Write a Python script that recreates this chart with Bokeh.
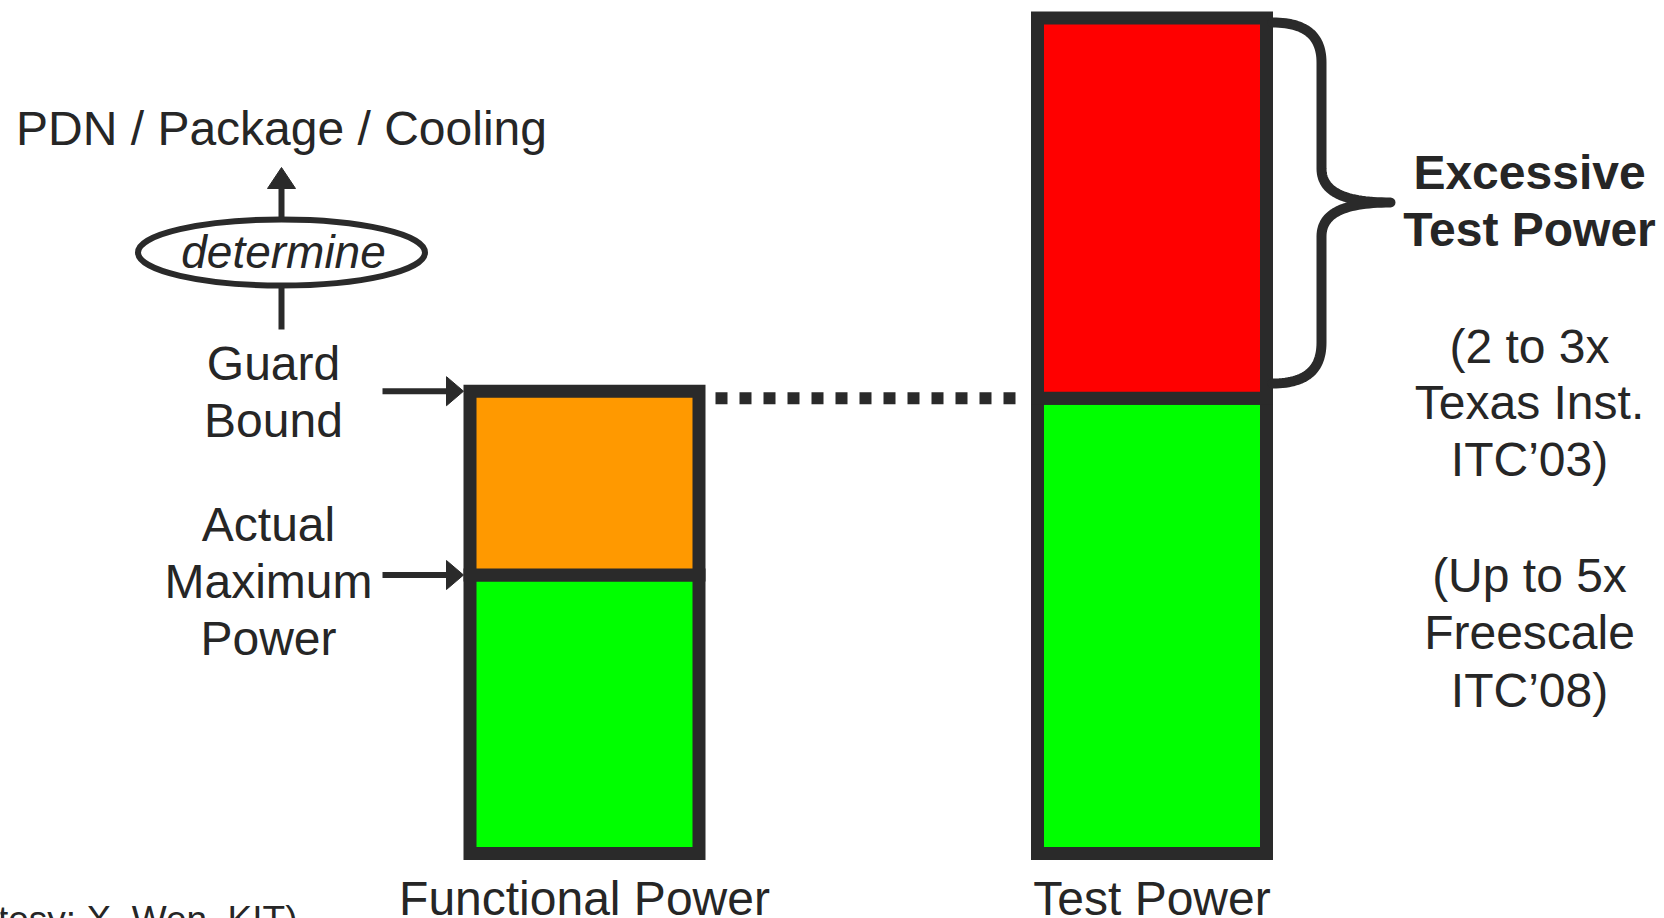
import numpy as np
from bokeh.plotting import figure
from bokeh.models import Range1d
from bokeh.core.properties import value
from bokeh.embed import file_html
from bokeh.resources import INLINE

# ---------------- data ----------------
categories = ["Functional Power", "Test Power"]
category_pos = [1, 2]

# power levels, relative to the actual maximum functional power
functional_actual_max = 1.0
functional_guard_bound = 1.66
test_functional_level = 1.635
test_power_total = 3.0

seg_x = [1, 1, 2, 2]
seg_bottom = [0.0, functional_actual_max, 0.0, test_functional_level]
seg_top = [functional_actual_max, functional_guard_bound, test_functional_level, test_power_total]
seg_color = ["#00ff00", "#ff9900", "#00ff00", "#ff0000"]

left_labels = ["PDN / Package / Cooling", "Guard", "Bound", "Actual", "Maximum", "Power"]
right_bold_labels = ["Excessive", "Test Power"]
right_labels = ["(2 to 3x", "Texas Inst.", "ITC\u201903)", "(Up to 5x", "Freescale", "ITC\u201908)"]
credit = "(Courtesy: X. Wen, KIT)"

# ---------------- layout ----------------
W, H = 1664, 918
PX_X = 567.5      # pixels per category step
PX_Y = 278.5      # pixels per power unit
X1_PAGE = 584.0   # x pixel of category 1
Y0_PAGE = 853.0   # y pixel of zero power

def px(xp):
    return 1 + (xp - X1_PAGE) / PX_X

def py(yp):
    return (Y0_PAGE - yp) / PX_Y

def ty(baseline, size):
    # anchor for text so that its baseline lands on the wanted pixel row
    return py(baseline - 0.36 * size)

DARK = "#2a2a2a"
TXT = "#262626"
FONT = value("Liberation Sans")
bar_w = 229 / PX_X

p = figure(width=W, height=H, output_backend="svg", toolbar_location=None,
           x_range=Range1d(px(0), px(W)), y_range=Range1d(py(H), py(0)),
           x_axis_location=None, y_axis_location=None, min_border=0)
p.grid.visible = False
p.outline_line_color = None
p.background_fill_color = "white"
p.border_fill_color = "white"

# bars
p.vbar(x=seg_x, bottom=seg_bottom, top=seg_top, width=bar_w, fill_color=seg_color,
       line_color=DARK, line_width=13, line_join="miter")

# dotted level line from guard bound to test bar
p.line([px(715), px(1016)], [test_functional_level, test_functional_level],
       line_color=DARK, line_width=12, line_dash="12 12")

# left arrows into functional bar
bar_left = 1 - bar_w / 2 - 6.5 / PX_X
for lvl in [functional_guard_bound, functional_actual_max]:
    p.line([px(382), bar_left - 12 / PX_X], [lvl, lvl], line_color=DARK, line_width=6)
    p.patch([bar_left, bar_left - 17 / PX_X, bar_left - 17 / PX_X],
            [lvl, lvl + 14.5 / PX_Y, lvl - 14.5 / PX_Y], color=DARK)

# "determine" ellipse with arrows
cx = px(281)
p.line([cx, cx], [py(329), py(287)], line_color=DARK, line_width=6)
p.line([cx, cx], [py(218), py(186)], line_color=DARK, line_width=6)
p.patch([cx, cx - 14 / PX_X, cx + 14 / PX_X], [py(167), py(188), py(188)], color=DARK)
p.ellipse(x=[cx], y=[py(252)], width=287 / PX_X, height=66 / PX_Y,
          fill_color="white", line_color=DARK, line_width=6)

# curly brace next to excessive test power
def cubic(p0, p1, p2, p3, n=30):
    t = np.linspace(0, 1, n)[:, None]
    pts = ((1 - t) ** 3) * np.array(p0) + 3 * ((1 - t) ** 2) * t * np.array(p1) \
        + 3 * (1 - t) * t ** 2 * np.array(p2) + t ** 3 * np.array(p3)
    return pts

pieces = [
    cubic((1272, 22), (1306, 22), (1321, 36), (1321, 62)),
    np.array([[1321, 62], [1321, 168]]),
    cubic((1321, 168), (1321, 192), (1345, 202), (1390, 202)),
    cubic((1390, 202), (1345, 202), (1321, 212), (1321, 236)),
    np.array([[1321, 236], [1321, 342]]),
    cubic((1321, 342), (1321, 369), (1306, 383), (1272, 383)),
]
brace = np.vstack(pieces)
p.line([px(v) for v in brace[:, 0]], [py(v) for v in brace[:, 1]],
       line_color=DARK, line_width=10, line_cap="round", line_join="round")

# texts
FS = 48
left_x = [281, 273, 273, 268, 268, 268]
left_y = [145, 380, 437, 541, 598, 655]
p.text(x=[px(v) for v in left_x], y=[ty(v, FS) for v in left_y], text=left_labels,
       text_font=FONT, text_font_size=f"{FS}px", text_align="center",
       text_baseline="alphabetic", text_color=TXT)
p.text(x=[px(283)], y=[ty(268, 46)], text=["determine"], text_font=FONT,
       text_font_style="italic", text_font_size="46px", text_align="center",
       text_baseline="alphabetic", text_color=TXT)

p.text(x=category_pos, y=[ty(915, FS)] * 2, text=categories, text_font=FONT,
       text_font_size=f"{FS}px", text_align="center", text_baseline="alphabetic",
       text_color=TXT)

p.text(x=[px(1529)] * 2, y=[ty(189, FS), ty(246, FS)], text=right_bold_labels, text_font=FONT,
       text_font_style="bold", text_font_size=f"{FS}px", text_align="center",
       text_baseline="alphabetic", text_color=TXT)
p.text(x=[px(1529)] * 6, y=[ty(v, FS) for v in [363, 419, 476, 592, 649, 707]],
       text=right_labels, text_font=FONT, text_font_size=f"{FS}px", text_align="center",
       text_baseline="alphabetic", text_color=TXT)

p.text(x=[px(297)], y=[ty(932, 37)], text=[credit], text_font=FONT, text_font_size="37px",
       text_align="right", text_baseline="alphabetic", text_color=TXT)

open("out.html", "w").write(file_html(p, INLINE))
